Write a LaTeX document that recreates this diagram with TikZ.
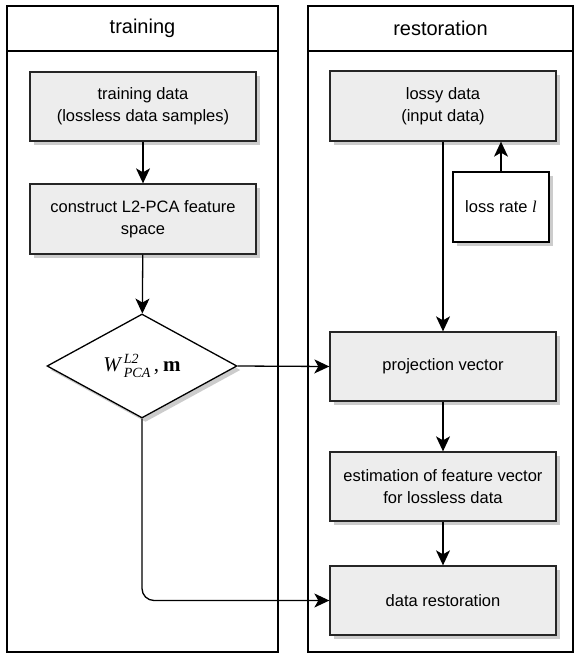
\documentclass[tikz,border=0pt]{standalone}
\usepackage{fontspec}
\setmainfont{Liberation Sans}
\newfontfamily\tms{Liberation Serif}
\usetikzlibrary{arrows.meta,shapes.geometric,shadows}

\tikzset{
  lane/.style={draw=black, line width=1.4pt},
  boxshadow/.style={drop shadow={shadow xshift=3.5pt, shadow yshift=-4pt, fill=black!20, opacity=1}},
  procbox/.style={draw=black!85, line width=1.3pt, fill=black!7, boxshadow,
    minimum width=226pt, minimum height=69pt, inner sep=0pt, align=center,
    font=\fontsize{16.5}{22}\selectfont},
  inbox/.style={draw=black, line width=1.3pt, fill=white, boxshadow,
    minimum width=96pt, minimum height=70pt, inner sep=0pt, align=center,
    font=\fontsize{16.5}{22}\selectfont},
  decision/.style={diamond, draw=black, line width=1.3pt, fill=white, boxshadow,
    minimum width=190pt, minimum height=104pt, inner sep=0pt, aspect=1.83},
  header/.style={font=\fontsize{20}{24}\selectfont},
  flow/.style={draw=black, line width=1.3pt, -{Stealth[length=15pt,width=14pt,inset=4pt]}}
}

% small italic serif script used in the decision label
\newcommand{\scr}[1]{\hbox{\tms\itshape\fontsize{14}{14}\selectfont #1}}

\begin{document}
\begin{tikzpicture}[x=1pt, y=-1pt]
  \useasboundingbox (0,0) rectangle (574,654);

  % swimlanes
  \draw[lane] (7,6) rectangle (278,652);
  \draw[lane] (7,51) -- (278,51);
  \draw[lane] (308,6) rectangle (573,652);
  \draw[lane] (308,51) -- (573,51);
  \node[header] (hl) at (142.5,28.5) {training};
  \node[header] (hr) at (440.5,28.5) {restoration};

  % training lane
  \node[procbox] (td) at (143,106.5) {training data\\(lossless data samples)};
  \node[procbox, minimum height=70pt] (cs) at (143,219) {construct L2-PCA feature\\space};
  \node[decision] (wm) at (142,366) {\tms\fontsize{21}{22}\selectfont
    {\itshape W}$^{\kern3pt\raise1pt\scr{L2}}_{\kern3pt\lower1pt\scr{PCA}}$\kern3pt,\kern4pt\textbf{m}};

  % restoration lane
  \node[procbox, minimum height=70pt] (ld) at (443,106) {lossy data\\(input data)};
  \node[inbox] (lr) at (501,207) {loss rate {\tms\itshape l}};
  \node[procbox] (pv) at (443,366.5) {projection vector};
  \node[procbox] (ef) at (443,486.5) {estimation of feature vector\\for lossless data};
  \node[procbox] (dr) at (443,600.5) {data restoration};

  % connectors
  \draw[flow] (td) -- (cs);
  \draw[flow] (cs) -- (wm);
  \draw[flow] (wm.east) -- (pv.west);
  \draw[flow, rounded corners=12pt] (wm.south) |- (dr.west);
  \draw[flow] (ld) -- (pv);
  \draw[flow] (lr.north) -- (lr.north |- ld.south);
  \draw[flow] (pv) -- (ef);
  \draw[flow] (ef) -- (dr);
\end{tikzpicture}
\end{document}
